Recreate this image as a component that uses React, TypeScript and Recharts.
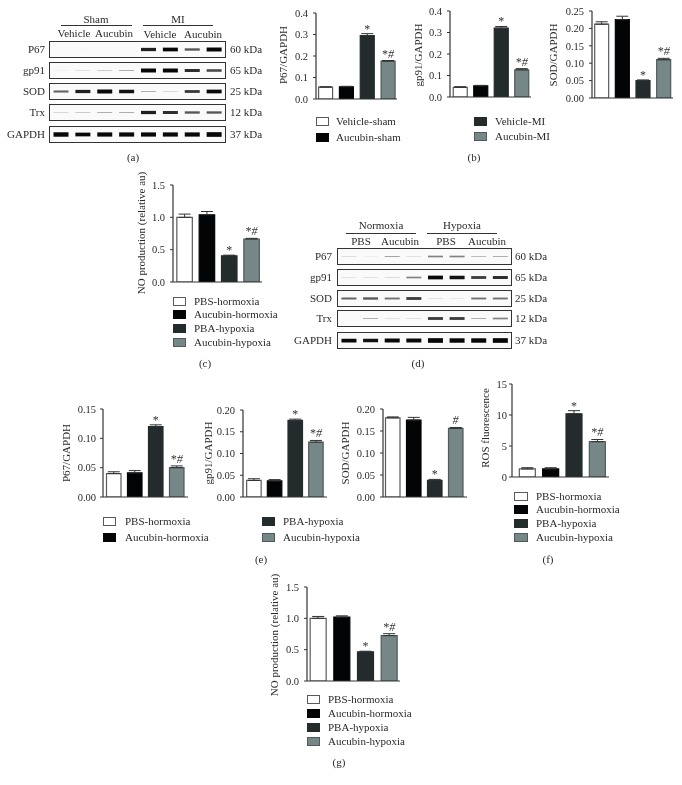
import React from "react";
import { BarChart, Bar, XAxis, YAxis, Cell, ErrorBar, LabelList } from "recharts";

const FONT = '"Liberation Serif", serif';
const INK = "#2a2a2a";

const groupFills = ["#ffffff", "#030405", "#242b2d", "#768787"];
const groupStrokes = ["#5a5a5a", "#030405", "#242b2d", "#4f5a5a"];

const shamMiNames = ["Vehicle-sham", "Aucubin-sham", "Vehicle-MI", "Aucubin-MI"];
const hypoxiaNames = ["PBS-hormoxia", "Aucubin-hormoxia", "PBA-hypoxia", "Aucubin-hypoxia"];
const starsShamMi = ["", "", "*", "*#"];
const starsSod = ["", "", "*", "#"];

const b1Values = [0.055, 0.057, 0.295, 0.176];
const b1Errors = [0.002, 0.002, 0.009, 0.003];
const b2Values = [0.045, 0.052, 0.32, 0.126];
const b2Errors = [0.003, 0.002, 0.008, 0.006];
const b3Values = [0.212, 0.225, 0.05, 0.11];
const b3Errors = [0.007, 0.01, 0.002, 0.004];
const cValues = [1.0, 1.04, 0.405, 0.665];
const cErrors = [0.05, 0.05, 0.01, 0.01];
const e1Values = [0.04, 0.041, 0.12, 0.05];
const e1Errors = [0.003, 0.004, 0.003, 0.003];
const e2Values = [0.038, 0.037, 0.176, 0.126];
const e2Errors = [0.004, 0.003, 0.003, 0.004];
const e3Values = [0.18, 0.175, 0.038, 0.156];
const e3Errors = [0.002, 0.006, 0.002, 0.002];
const fValues = [1.3, 1.3, 10.2, 5.7];
const fErrors = [0.2, 0.2, 0.5, 0.35];
const gValues = [1.0, 1.02, 0.465, 0.725];
const gErrors = [0.03, 0.02, 0.01, 0.03];

const ticks04 = [0, 0.1, 0.2, 0.3, 0.4];
const ticks025 = [0, 0.05, 0.1, 0.15, 0.2, 0.25];
const ticks15 = [0, 0.5, 1, 1.5];
const ticks015 = [0, 0.05, 0.1, 0.15];
const ticks020 = [0, 0.05, 0.1, 0.15, 0.2];
const ticksRos = [0, 5, 10, 15];

const laneIds = [1, 2, 3, 4, 5, 6, 7, 8];
const blotAP67 = [0, 0.03, 0.02, 0.02, 0.7, 0.8, 0.5, 0.85];
const blotAGp91 = [0.05, 0.1, 0.15, 0.2, 0.85, 0.85, 0.65, 0.55];
const blotASod = [0.45, 0.7, 0.85, 0.75, 0.2, 0.12, 0.6, 0.8];
const blotATrx = [0.12, 0.15, 0.2, 0.2, 0.7, 0.65, 0.5, 0.5];
const blotAGapdh = [0.95, 0.8, 0.9, 0.9, 0.9, 0.9, 0.9, 1];
const blotDP67 = [0.12, 0.06, 0.22, 0.1, 0.35, 0.35, 0.18, 0.2];
const blotDGp91 = [0.08, 0.1, 0.12, 0.35, 0.8, 0.75, 0.6, 0.65];
const blotDSod = [0.45, 0.5, 0.4, 0.6, 0.1, 0.08, 0.4, 0.4];
const blotDTrx = [0.02, 0.2, 0.1, 0.1, 0.6, 0.6, 0.2, 0.35];
const blotDGapdh = [0.8, 0.75, 0.85, 0.85, 1, 0.95, 0.95, 1];

function T({ x, y, children, size = 11, align = "center", color = INK, rotate = 0 }: any) {
  const tx = align === "center" ? "-50%" : align === "right" ? "-100%" : "0";
  return (
    <div
      style={{
        position: "absolute",
        left: x,
        top: y,
        transform: `translate(${tx}, -50%) rotate(${rotate}deg)`,
        fontFamily: FONT,
        fontSize: size,
        lineHeight: 1,
        whiteSpace: "nowrap",
        color,
      }}
    >
      {children}
    </div>
  );
}

function Rule({ x1, x2, y }: any) {
  return <div style={{ position: "absolute", left: x1, top: y, width: x2 - x1, height: 1, background: "#333" }} />;
}

function Swatch({ x, y, w = 13, h = 9, idx, label, tx }: any) {
  return (
    <>
      <div
        style={{
          position: "absolute",
          left: x,
          top: y - h / 2,
          width: w,
          height: h,
          boxSizing: "border-box",
          background: groupFills[idx],
          border: `1.2px solid ${groupStrokes[idx]}`,
        }}
      />
      <T x={tx} y={y - 0.5} align="left" size={11}>
        {label}
      </T>
    </>
  );
}

function BarPanel({ axisX, y0, yTop, xEnd, c1, c4, barW, max, ticks, dec, values, errors, stars, names, title, titleX, titleY, tickEnd }: any) {
  const leftW = axisX - titleX + 4;
  const topM = 12;
  const bottomM = 9;
  const plotH = y0 - yTop;
  const w = leftW + xEnd - axisX + 2;
  const h = topM + plotH + bottomM;
  const band = (c4 - c1) / 3;
  const padLeft = c1 - band / 2 - axisX;
  const padRight = xEnd - (c4 + band / 2);
  const data = names.map((n: string, i: number) => ({ name: n, value: values[i], err: [0, errors[i]], star: stars[i] }));
  const gap = axisX - tickEnd;
  return (
    <>
      <T x={titleX} y={titleY} rotate={-90}>
        {title}
      </T>
      <div style={{ position: "absolute", left: axisX - leftW, top: yTop - topM }}>
        <BarChart width={w} height={h} data={data} margin={{ top: topM, right: 2, bottom: 0, left: 0 }} barSize={barW}>
          <XAxis
            dataKey="name"
            height={bottomM}
            tick={false}
            tickLine={false}
            interval={0}
            axisLine={{ stroke: "#333", strokeWidth: 1.2 }}
            padding={{ left: padLeft, right: padRight }}
          />
          <YAxis
            width={leftW}
            domain={[0, max]}
            ticks={ticks}
            interval={0}
            tickSize={3}
            tickMargin={gap - 3}
            allowDataOverflow
            axisLine={{ stroke: "#333", strokeWidth: 1.2 }}
            tickLine={{ stroke: "#333", strokeWidth: 1 }}
            tick={{ fontFamily: FONT, fontSize: 10.5, fill: INK }}
            tickFormatter={(v: number) => v.toFixed(dec)}
          />
          <Bar dataKey="value" isAnimationActive={false} strokeWidth={1.2}>
            {data.map((d: any, i: number) => (
              <Cell key={d.name} fill={groupFills[i]} stroke={groupStrokes[i]} />
            ))}
            <ErrorBar dataKey="err" direction="y" width={6} stroke="#333" strokeWidth={1} isAnimationActive={false} />
            <LabelList
              dataKey="star"
              content={(p: any) => {
                if (!p.value) return null;
                const lift = (errors[p.index] / max) * plotH;
                const hasHash = p.value.includes("#");
                return (
                  <text x={p.x + p.width / 2} y={p.y - lift - (hasHash ? 3 : 1)} textAnchor="middle" fontFamily={FONT} fontSize={12} fill="#333" letterSpacing={hasHash ? 0.5 : 0} fontStyle={hasHash ? "italic" : "normal"}>
                    {p.value}
                  </text>
                );
              }}
            />
          </Bar>
        </BarChart>
      </div>
    </>
  );
}

function BlotRow({ x, y, w, h, values, label, kda, labelX, kdaX }: any) {
  const data = laneIds.map((lane, i) => ({ lane, band: [-values[i] / 2, values[i] / 2], v: values[i] }));
  return (
    <>
      <T x={labelX} y={y + h / 2 - 1} align="right" size={11}>
        {label}
      </T>
      <T x={kdaX} y={y + h / 2 - 1} align="left" size={11}>
        {kda}
      </T>
      <div style={{ position: "absolute", left: x, top: y, width: w, height: h, boxSizing: "border-box", border: "1px solid #333", background: "#fafafa", overflow: "hidden" }}>
        <div style={{ filter: "blur(0.7px)" }}>
          <BarChart width={w - 2} height={h - 2} data={data} margin={{ top: 0, right: 0, bottom: 0, left: 0 }} barCategoryGap="16%">
            <XAxis dataKey="lane" hide />
            <YAxis hide domain={[-1.6, 1.6]} allowDataOverflow />
            <Bar dataKey="band" isAnimationActive={false}>
              {data.map((d) => (
                <Cell key={d.lane} fill={`rgba(8,8,8,${Math.min(1, 0.1 + d.v * 1.15)})`} />
              ))}
            </Bar>
          </BarChart>
        </div>
      </div>
    </>
  );
}

export default function App() {
  return (
    <div style={{ position: "absolute", left: 0, top: 0, width: 682, height: 785, background: "#fff", overflow: "hidden", filter: "blur(0.35px)" }}>
      {/* (a) */}
      <T x={96} y={19}>Sham</T>
      <Rule x1={61} x2={132} y={25} />
      <T x={178} y={19}>MI</T>
      <Rule x1={143} x2={213} y={25} />
      <T x={74} y={33}>Vehicle</T>
      <T x={114} y={33}>Aucubin</T>
      <T x={160} y={34}>Vehicle</T>
      <T x={203} y={34}>Aucubin</T>
      <BlotRow x={49} y={41} w={177} h={17} values={blotAP67} label="P67" kda="60 kDa" labelX={45} kdaX={230} />
      <BlotRow x={49} y={62} w={177} h={17} values={blotAGp91} label="gp91" kda="65 kDa" labelX={45} kdaX={230} />
      <BlotRow x={49} y={83} w={177} h={17} values={blotASod} label="SOD" kda="25 kDa" labelX={45} kdaX={230} />
      <BlotRow x={49} y={104} w={177} h={17} values={blotATrx} label="Trx" kda="12 kDa" labelX={45} kdaX={230} />
      <BlotRow x={49} y={126} w={177} h={17} values={blotAGapdh} label="GAPDH" kda="37 kDa" labelX={45} kdaX={230} />
      <T x={133} y={157}>(a)</T>

      {/* (b) */}
      <BarPanel axisX={316} y0={99} yTop={13} xEnd={397} c1={326} c4={388.5} barW={14} max={0.4} ticks={ticks04} dec={1} values={b1Values} errors={b1Errors} stars={starsShamMi} names={shamMiNames} title="P67/GAPDH" titleX={283} titleY={55} tickEnd={308} />
      <BarPanel axisX={450} y0={97} yTop={11} xEnd={531} c1={460.5} c4={522} barW={14} max={0.4} ticks={ticks04} dec={1} values={b2Values} errors={b2Errors} stars={starsShamMi} names={shamMiNames} title="gp91/GAPDH" titleX={418} titleY={55} tickEnd={442} />
      <BarPanel axisX={592} y0={98} yTop={11} xEnd={673} c1={602} c4={664} barW={14} max={0.25} ticks={ticks025} dec={2} values={b3Values} errors={b3Errors} stars={starsShamMi} names={shamMiNames} title="SOD/GAPDH" titleX={553} titleY={55} tickEnd={584} />
      <Swatch x={316} y={121} idx={0} label={shamMiNames[0]} tx={336} />
      <Swatch x={316} y={137} idx={1} label={shamMiNames[1]} tx={336} />
      <Swatch x={474} y={121} idx={2} label={shamMiNames[2]} tx={495} />
      <Swatch x={474} y={136} idx={3} label={shamMiNames[3]} tx={495} />
      <T x={474} y={157}>(b)</T>

      {/* (c) */}
      <BarPanel axisX={173} y0={282} yTop={185} xEnd={262} c1={185} c4={252} barW={15.5} max={1.5} ticks={ticks15} dec={1} values={cValues} errors={cErrors} stars={starsShamMi} names={hypoxiaNames} title="NO production (relative au)" titleX={141} titleY={233} tickEnd={165} />
      <Swatch x={173} y={301} idx={0} label={hypoxiaNames[0]} tx={194} />
      <Swatch x={173} y={314} idx={1} label={hypoxiaNames[1]} tx={194} />
      <Swatch x={173} y={328} idx={2} label={hypoxiaNames[2]} tx={194} />
      <Swatch x={173} y={342} idx={3} label={hypoxiaNames[3]} tx={194} />
      <T x={205} y={363}>(c)</T>

      {/* (d) */}
      <T x={381} y={225}>Normoxia</T>
      <Rule x1={346} x2={416} y={233} />
      <T x={462} y={225}>Hypoxia</T>
      <Rule x1={427} x2={497} y={233} />
      <T x={361} y={241}>PBS</T>
      <T x={400} y={241}>Aucubin</T>
      <T x={446} y={241}>PBS</T>
      <T x={487} y={241}>Aucubin</T>
      <BlotRow x={337} y={248} w={175} h={17} values={blotDP67} label="P67" kda="60 kDa" labelX={332} kdaX={515} />
      <BlotRow x={337} y={269} w={175} h={17} values={blotDGp91} label="gp91" kda="65 kDa" labelX={332} kdaX={515} />
      <BlotRow x={337} y={290} w={175} h={17} values={blotDSod} label="SOD" kda="25 kDa" labelX={332} kdaX={515} />
      <BlotRow x={337} y={310} w={175} h={17} values={blotDTrx} label="Trx" kda="12 kDa" labelX={332} kdaX={515} />
      <BlotRow x={337} y={332} w={175} h={17} values={blotDGapdh} label="GAPDH" kda="37 kDa" labelX={332} kdaX={515} />
      <T x={418} y={363}>(d)</T>

      {/* (e) */}
      <BarPanel axisX={103} y0={497} yTop={409} xEnd={188} c1={114} c4={177} barW={14.5} max={0.15} ticks={ticks015} dec={2} values={e1Values} errors={e1Errors} stars={starsShamMi} names={hypoxiaNames} title="P67/GAPDH" titleX={66} titleY={453} tickEnd={96} />
      <BarPanel axisX={243} y0={497} yTop={410} xEnd={327} c1={254} c4={316} barW={14.5} max={0.2} ticks={ticks020} dec={2} values={e2Values} errors={e2Errors} stars={starsShamMi} names={hypoxiaNames} title="gp91/GAPDH" titleX={208} titleY={453} tickEnd={235} />
      <BarPanel axisX={383} y0={497} yTop={409} xEnd={467} c1={393} c4={456} barW={14.5} max={0.2} ticks={ticks020} dec={2} values={e3Values} errors={e3Errors} stars={starsSod} names={hypoxiaNames} title="SOD/GAPDH" titleX={345} titleY={453} tickEnd={375} />
      <Swatch x={103} y={521} idx={0} label={hypoxiaNames[0]} tx={125} />
      <Swatch x={103} y={537} idx={1} label={hypoxiaNames[1]} tx={125} />
      <Swatch x={262} y={521} idx={2} label={hypoxiaNames[2]} tx={283} />
      <Swatch x={262} y={537} idx={3} label={hypoxiaNames[3]} tx={283} />
      <T x={261} y={559}>(e)</T>

      {/* (f) */}
      <BarPanel axisX={512} y0={477} yTop={384} xEnd={609} c1={527} c4={597} barW={16} max={15} ticks={ticksRos} dec={0} values={fValues} errors={fErrors} stars={starsShamMi} names={hypoxiaNames} title="ROS fluorescence" titleX={485} titleY={428} tickEnd={507} />
      <Swatch x={514} y={496} w={14} idx={0} label={hypoxiaNames[0]} tx={536} />
      <Swatch x={514} y={509} w={14} idx={1} label={hypoxiaNames[1]} tx={536} />
      <Swatch x={514} y={523} w={14} idx={2} label={hypoxiaNames[2]} tx={536} />
      <Swatch x={514} y={537} w={14} idx={3} label={hypoxiaNames[3]} tx={536} />
      <T x={548} y={559}>(f)</T>

      {/* (g) */}
      <BarPanel axisX={307} y0={681} yTop={587} xEnd={400} c1={318} c4={389} barW={16} max={1.5} ticks={ticks15} dec={1} values={gValues} errors={gErrors} stars={starsShamMi} names={hypoxiaNames} title="NO production (relative au)" titleX={274} titleY={635} tickEnd={299} />
      <Swatch x={307} y={699} idx={0} label={hypoxiaNames[0]} tx={328} />
      <Swatch x={307} y={713} idx={1} label={hypoxiaNames[1]} tx={328} />
      <Swatch x={307} y={727} idx={2} label={hypoxiaNames[2]} tx={328} />
      <Swatch x={307} y={741} idx={3} label={hypoxiaNames[3]} tx={328} />
      <T x={339} y={762}>(g)</T>
    </div>
  );
}
